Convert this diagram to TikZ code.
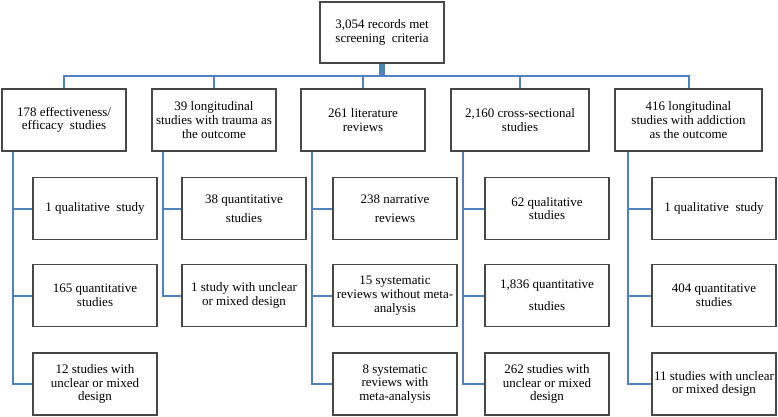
\documentclass[tikz,border=0pt]{standalone}
\usepackage{fontspec}
\setmainfont{Liberation Serif}
\definecolor{linkblue}{HTML}{4F81BD}
\definecolor{boxgray}{HTML}{474747}
\tikzset{
  box/.style={draw=boxgray, line width=1.2pt, fill=white, align=center, inner sep=1pt,
    font=\fontsize{13}{13.6}\selectfont, minimum height=62pt},
  wbox/.style={box, minimum width=124pt},
  conn/.style={draw=linkblue, line width=2pt},
  stem/.style={draw=linkblue, line width=6pt},
}
\begin{document}
\begin{tikzpicture}[x=1pt,y=-1pt]
\useasboundingbox (0,0) rectangle (778,417);
% top
\node[box, minimum width=124pt, minimum height=61pt] (top) at (382,32.5) {3,054 records met\\screening \ criteria};
% level 2
\node[wbox] (b1) at (64,120) {178 effectiveness/\\efficacy \ studies};
\node[wbox] (b2) at (214,120) {39 longitudinal\\studies with trauma as\\the outcome};
\node[wbox] (b3) at (363,120) {261 literature\\reviews};
\node[box, minimum width=138pt] (b4) at (520,120) {2,160 cross-sectional\\studies};
\node[box, minimum width=147pt] (b5) at (688.5,120) {416 longitudinal\\studies with addiction\\as the outcome};
% bus
\coordinate (bus) at (0,76);
\draw[stem] (top.south) -- (top.south |- bus);
\draw[conn] (b1.north) -- (b1.north |- bus) -- (b5.north |- bus) -- (b5.north);
\draw[conn] (b2.north) -- (b2.north |- bus);
\draw[conn] (b3.north) -- (b3.north |- bus);
\draw[conn] (b4.north) -- (b4.north |- bus);
% children
\node[wbox] (c11) at (95,208.5) {1 qualitative \ study};
\node[wbox] (c12) at (95,295.5) {165 quantitative\\studies};
\node[wbox] (c13) at (95,384) {12 studies with\\unclear or mixed\\design};
\node[wbox] (c21) at (244,208.5) {38 quantitative\\[5pt]studies};
\node[wbox] (c22) at (244,295.5) {1 study with unclear\\or mixed design};
\node[wbox] (c31) at (395,208.5) {238 narrative\\[5pt]reviews};
\node[wbox] (c32) at (395,295.5) {15 systematic\\reviews without meta-\\analysis};
\node[wbox] (c33) at (395,384) {8 systematic\\reviews with\\meta-analysis};
\node[wbox] (c41) at (547,208.5) {62 qualitative\\studies};
\node[wbox] (c42) at (547,295.5) {1,836 quantitative\\[8pt]studies};
\node[wbox] (c43) at (547,384) {262 studies with\\unclear or mixed\\design};
\node[wbox] (c51) at (714,208.5) {1 qualitative \ study};
\node[wbox] (c52) at (714,295.5) {404 quantitative\\studies};
\node[wbox] (c53) at (714,384) {11 studies with unclear\\or mixed design};
% trunks
\coordinate (t1) at ([xshift=12pt]b1.south west);
\coordinate (t2) at ([xshift=12pt]b2.south west);
\coordinate (t3) at ([xshift=12pt]b3.south west);
\coordinate (t4) at ([xshift=13pt]b4.south west);
\coordinate (t5) at ([xshift=14pt]b5.south west);
\draw[conn] (t1) |- (c13.west);
\draw[conn] (t1 |- c11.west) -- (c11.west);
\draw[conn] (t1 |- c12.west) -- (c12.west);
\draw[conn] (t2) |- (c22.west);
\draw[conn] (t2 |- c21.west) -- (c21.west);
\draw[conn] (t3) |- (c33.west);
\draw[conn] (t3 |- c31.west) -- (c31.west);
\draw[conn] (t3 |- c32.west) -- (c32.west);
\draw[conn] (t4) |- (c43.west);
\draw[conn] (t4 |- c41.west) -- (c41.west);
\draw[conn] (t4 |- c42.west) -- (c42.west);
\draw[conn] (t5) |- (c53.west);
\draw[conn] (t5 |- c51.west) -- (c51.west);
\draw[conn] (t5 |- c52.west) -- (c52.west);
\end{tikzpicture}
\end{document}
